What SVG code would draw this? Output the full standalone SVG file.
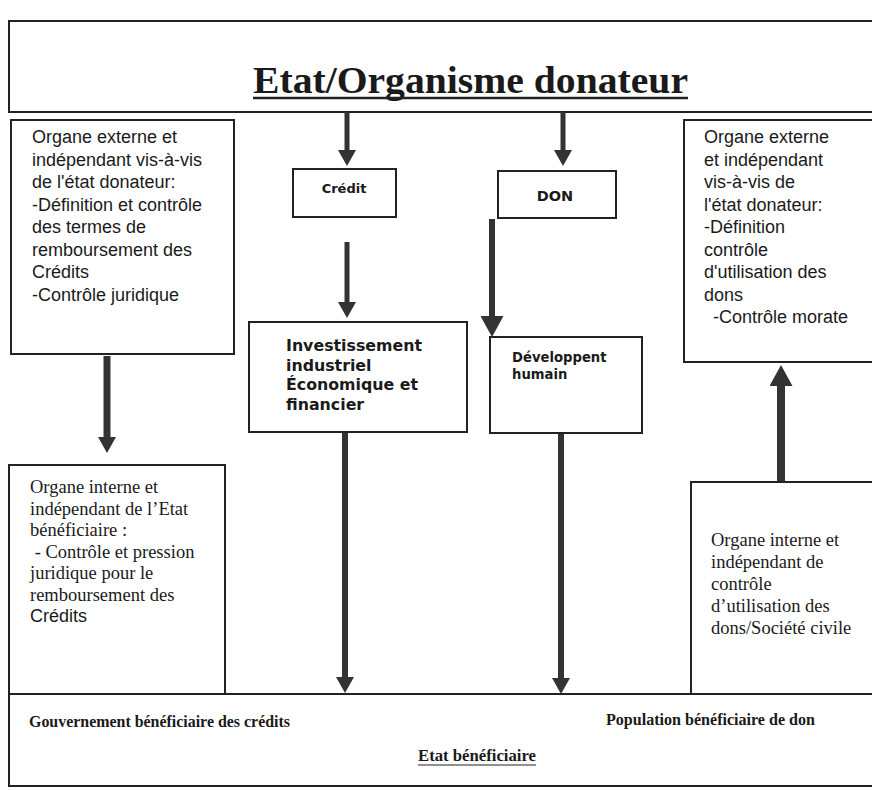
<svg xmlns="http://www.w3.org/2000/svg" width="872" height="790" viewBox="0 0 872 790">
<style>
.box{fill:#fff;stroke:#222;stroke-width:2}
.ln{stroke:#222;stroke-width:2;fill:none}
.sans{font-family:"Liberation Sans",Arial,sans-serif;font-size:18px;fill:#1a1a1a}
.bold{font-family:"DejaVu Sans","Liberation Sans",sans-serif;font-weight:bold;fill:#1a1a1a}
.serif{font-family:"Liberation Serif","Times New Roman",serif;font-size:18.5px;fill:#1a1a1a}
.sb{font-family:"Liberation Serif","Times New Roman",serif;font-weight:bold;font-size:16px;fill:#1a1a1a}
.arr{stroke:#333;fill:none}
</style>
<defs>
<marker id="ah" markerUnits="userSpaceOnUse" viewBox="0 0 16 18" markerWidth="16" markerHeight="18" refX="2" refY="9" orient="auto"><path d="M0,0 L16,9 L0,18 z" fill="#333"/></marker>
<marker id="ahL" markerUnits="userSpaceOnUse" viewBox="0 0 21 23" markerWidth="21" markerHeight="23" refX="2" refY="11.5" orient="auto"><path d="M0,0 L21,11.5 L0,23 z" fill="#333"/></marker>
</defs>
<rect width="872" height="790" fill="#fff"/>

<g id="donor">
<rect class="box" x="9" y="21" width="880" height="91"/>
<text x="253" y="93" font-family="'Liberation Serif','Times New Roman',serif" font-weight="bold" font-size="38" fill="#1a1a1a" textLength="435" lengthAdjust="spacingAndGlyphs">Etat/Organisme donateur</text>
<line x1="253" y1="98" x2="688" y2="98" stroke="#222" stroke-width="2.5"/>
</g>

<g id="ext-left">
<rect class="box" x="11" y="120" width="223" height="234"/>
<text class="sans"><tspan x="32" y="143">Organe externe et</tspan><tspan x="32" y="165.5">indépendant vis-à-vis</tspan><tspan x="32" y="188">de l'état donateur:</tspan><tspan x="32" y="210.5">-Définition  et contrôle</tspan><tspan x="32" y="233">des termes de</tspan><tspan x="32" y="255.5">remboursement des</tspan><tspan x="32" y="278">Crédits</tspan><tspan x="32" y="300.5">-Contrôle juridique</tspan></text>
</g>

<g id="credit">
<rect class="box" x="293" y="169" width="103" height="48"/>
<text class="bold" x="344" y="193" font-size="13" text-anchor="middle">Crédit</text>
</g>

<g id="don">
<rect class="box" x="498" y="171" width="118" height="47"/>
<text class="bold" x="555" y="201" font-size="14.5" text-anchor="middle">DON</text>
</g>

<g id="ext-right">
<rect class="box" x="684" y="120" width="200" height="242"/>
<text class="sans"><tspan x="704" y="143">Organe externe</tspan><tspan x="704" y="165.5">et indépendant</tspan><tspan x="704" y="188">vis-à-vis de</tspan><tspan x="704" y="210.5">l'état donateur:</tspan><tspan x="704" y="233">-Définition</tspan><tspan x="704" y="255.5">contrôle</tspan><tspan x="704" y="278">d'utilisation des</tspan><tspan x="704" y="300.5">dons</tspan><tspan x="708" y="323"> -Contrôle morate</tspan></text>
</g>

<g id="invest">
<rect class="box" x="249" y="322" width="218" height="110"/>
<text class="bold" font-size="15.8"><tspan x="286" y="351">Investissement</tspan><tspan x="286" y="370.5">industriel</tspan><tspan x="286" y="390">Économique et</tspan><tspan x="286" y="409.5">financier</tspan></text>
</g>

<g id="dev">
<rect class="box" x="490" y="337" width="152" height="96"/>
<text class="bold" font-size="13.2"><tspan x="512" y="362">Développent</tspan><tspan x="512" y="379">humain</tspan></text>
</g>

<g id="int-left">
<rect class="box" x="9" y="465" width="216" height="229"/>
<text class="serif"><tspan x="30" y="493">Organe interne et</tspan><tspan x="30" y="514.5">indépendant de l’Etat</tspan><tspan x="30" y="536">bénéficiaire :</tspan><tspan x="30" y="557.5"> - Contrôle et pression</tspan><tspan x="30" y="579">juridique  pour le</tspan><tspan x="30" y="600.5">remboursement des</tspan></text>
<text class="sans" x="30" y="622">Crédits</text>
</g>

<g id="int-right">
<rect class="box" x="691" y="482" width="200" height="212"/>
<text class="serif"><tspan x="711" y="546">Organe interne et</tspan><tspan x="711" y="568">indépendant de</tspan><tspan x="711" y="590">contrôle</tspan><tspan x="711" y="612">d’utilisation des</tspan><tspan x="711" y="634">dons/Société civile</tspan></text>
</g>

<g id="beneficiary">
<rect class="box" x="9" y="694" width="880" height="92"/>
<text class="sb" x="29" y="727" textLength="261" lengthAdjust="spacingAndGlyphs">Gouvernement bénéficiaire des crédits</text>
<text class="sb" x="606" y="725" textLength="209" lengthAdjust="spacingAndGlyphs">Population bénéficiaire de don</text>
<text class="sb" x="418" y="761" textLength="118" lengthAdjust="spacingAndGlyphs">Etat bénéficiaire</text>
<line x1="418" y1="765" x2="536" y2="765" stroke="#222" stroke-width="1.2"/>
</g>

<g id="connectors">
<line class="arr" x1="347" y1="112" x2="347" y2="152" stroke-width="5" marker-end="url(#ah)"/>
<line class="arr" x1="563" y1="112" x2="563" y2="152" stroke-width="5" marker-end="url(#ah)"/>
<line class="arr" x1="347" y1="242" x2="347" y2="304" stroke-width="5" marker-end="url(#ah)"/>
<line class="arr" x1="492" y1="219" x2="492" y2="318" stroke-width="6" marker-end="url(#ahL)"/>
<line class="arr" x1="107" y1="356" x2="107" y2="439" stroke-width="7" marker-end="url(#ah)"/>
<line class="arr" x1="345" y1="433" x2="345" y2="679" stroke-width="6" marker-end="url(#ah)"/>
<line class="arr" x1="561" y1="434" x2="561" y2="680" stroke-width="6" marker-end="url(#ah)"/>
<line class="arr" x1="781" y1="481" x2="781" y2="384" stroke-width="8" marker-end="url(#ahL)"/>
</g>
</svg>
